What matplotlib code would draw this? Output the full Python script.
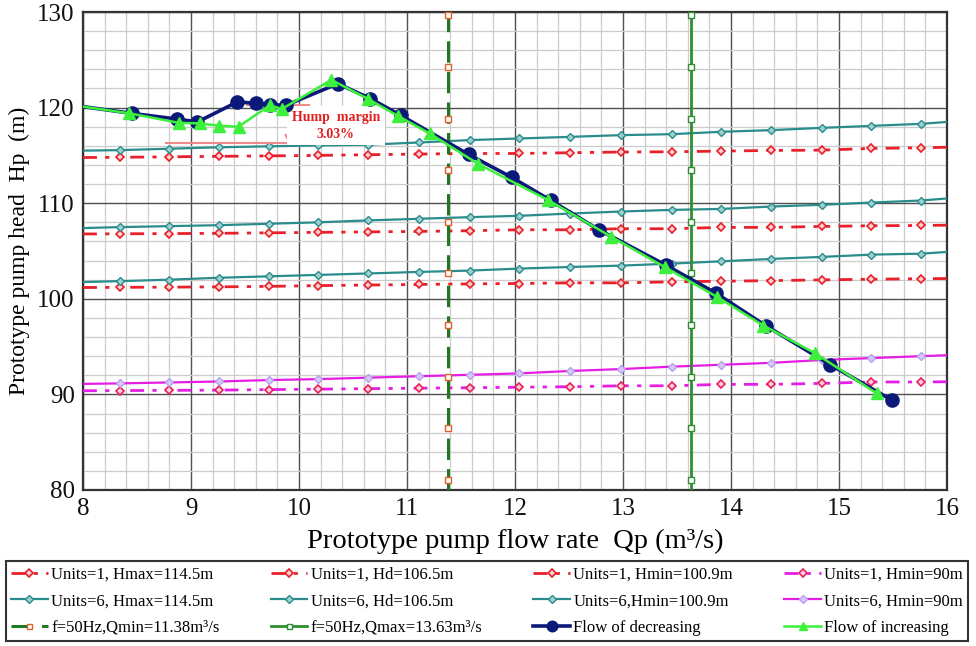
import matplotlib
matplotlib.use("Agg")
import matplotlib.pyplot as plt
from matplotlib.ticker import MultipleLocator

plt.rcParams['font.family'] = ['Liberation Serif', 'DejaVu Serif']

# ---------------- data ----------------
# flow values of operating lines (axis edges + marker positions)
q_line = [8.0, 8.34, 8.80, 9.26, 9.72, 10.18, 10.64, 11.11, 11.58, 12.04,
          12.51, 12.98, 13.45, 13.91, 14.37, 14.84, 15.30, 15.76, 16.0]

u1_hmax = [114.78, 114.8, 114.85, 114.9, 114.95, 115.0, 115.07, 115.14, 115.2, 115.2,
           115.28, 115.35, 115.38, 115.45, 115.52, 115.55, 115.73, 115.8, 115.85]
u1_hd = [106.78, 106.8, 106.82, 106.85, 106.9, 106.95, 107.0, 107.05, 107.12, 107.22,
         107.22, 107.33, 107.33, 107.47, 107.47, 107.57, 107.64, 107.67, 107.7]
u1_hmin = [101.18, 101.2, 101.22, 101.25, 101.3, 101.38, 101.44, 101.5, 101.56, 101.6,
           101.67, 101.67, 101.77, 101.84, 101.9, 101.98, 102.05, 102.1, 102.12]
u1_h90 = [90.38, 90.4, 90.42, 90.45, 90.5, 90.55, 90.6, 90.65, 90.7, 90.75,
          90.8, 90.9, 90.9, 91.05, 91.05, 91.15, 91.3, 91.3, 91.32]

u6_hmax = [115.5, 115.55, 115.7, 115.85, 115.95, 116.05, 116.12, 116.35, 116.6, 116.77,
           116.94, 117.12, 117.22, 117.47, 117.64, 117.88, 118.09, 118.3, 118.5]
u6_hd = [107.4, 107.5, 107.6, 107.7, 107.85, 108.0, 108.2, 108.37, 108.54, 108.68,
         108.92, 109.13, 109.3, 109.4, 109.65, 109.83, 110.07, 110.28, 110.5]
u6_hmin = [101.75, 101.85, 102.0, 102.2, 102.35, 102.5, 102.65, 102.81, 102.95, 103.16,
           103.33, 103.47, 103.68, 103.92, 104.17, 104.38, 104.62, 104.72, 104.9]
u6_h90 = [91.1, 91.15, 91.25, 91.35, 91.5, 91.6, 91.75, 91.9, 92.05, 92.2,
          92.45, 92.65, 92.9, 93.1, 93.3, 93.6, 93.8, 94.0, 94.1]

q_min = 11.38
q_max = 13.63
v_heads = [80.0, 81.05, 86.45, 91.85, 97.25, 102.65, 108.05, 113.45, 118.85, 124.25, 129.65, 130.0]

q_dec = [8.0, 8.45, 8.87, 9.06, 9.43, 9.60, 9.73, 9.88, 10.36, 10.66,
         10.94, 11.57, 11.97, 12.33, 12.78, 13.40, 13.86, 14.32, 14.92, 15.49]
h_dec = [120.1, 119.4, 118.8, 118.5, 120.6, 120.45, 120.3, 120.25, 122.5, 120.95,
         119.2, 115.1, 112.7, 110.3, 107.2, 103.5, 100.6, 97.2, 93.1, 89.4]

q_inc = [8.0, 8.43, 8.89, 9.08, 9.26, 9.44, 9.73, 9.84, 10.30, 10.64,
         10.92, 11.21, 11.66, 12.31, 12.89, 13.39, 13.87, 14.30, 14.78, 15.35]
h_inc = [120.1, 119.4, 118.4, 118.35, 118.1, 118.0, 120.25, 119.85, 122.9, 120.9,
         119.1, 117.3, 114.1, 110.3, 106.5, 103.3, 100.2, 97.2, 94.3, 90.1]

hump_top = 120.3
hump_base = 116.3
hump_text = "Hump  margin\n3.03%"

labels = {
    'u1_hmax': "Units=1, Hmax=114.5m", 'u1_hd': "Units=1, Hd=106.5m",
    'u1_hmin': "Units=1, Hmin=100.9m", 'u1_h90': "Units=1, Hmin=90m",
    'u6_hmax': "Units=6, Hmax=114.5m", 'u6_hd': "Units=6, Hd=106.5m",
    'u6_hmin': "Units=6,Hmin=100.9m", 'u6_h90': "Units=6, Hmin=90m",
    'qmin': "f=50Hz,Qmin=11.38m³/s", 'qmax': "f=50Hz,Qmax=13.63m³/s",
    'dec': "Flow of decreasing", 'inc': "Flow of increasing",
}

# ---------------- figure ----------------
fig = plt.figure(figsize=(9.76, 6.46), dpi=100)
ax = fig.add_axes([83/976, 1-490/646, (947-83)/976, (490-12)/646])

RED = '#e8202a'
TEAL = '#2a8c8c'
MAG = '#e41ee4'
NAVY = '#0b1a78'
LIME = '#3cf03c'
DG1 = '#1f7a1f'
DG2 = '#2f8f2f'
red_ls = (0, (5, 3, 1.5, 3, 1.5, 3))
mk = slice(1, -1)

h = {}
for key, ys in [('u1_hmax', u1_hmax), ('u1_hd', u1_hd), ('u1_hmin', u1_hmin)]:
    h[key], = ax.plot(q_line, ys, color=RED, lw=2.0, ls=red_ls, marker='D', ms=4.5,
                      mfc='#ffd0d0', mec=RED, mew=1.2, markevery=mk, zorder=3)
h['u1_h90'], = ax.plot(q_line, u1_h90, color=MAG, lw=2.0, ls=red_ls, marker='D', ms=4.5,
                       mfc='#ffd0e0', mec='#e8205a', mew=1.2, markevery=mk, zorder=3)
for key, ys in [('u6_hmax', u6_hmax), ('u6_hd', u6_hd), ('u6_hmin', u6_hmin)]:
    h[key], = ax.plot(q_line, ys, color=TEAL, lw=1.6, ls='-', marker='D', ms=4.5,
                      mfc='#9fd0d0', mec=TEAL, mew=1.0, markevery=mk, zorder=3)
h['u6_h90'], = ax.plot(q_line, u6_h90, color=MAG, lw=1.6, ls='-', marker='D', ms=4.5,
                       mfc='#d8c8f8', mec='#b8a0f0', mew=1.0, markevery=mk, zorder=3)

h['qmin'], = ax.plot([q_min]*len(v_heads), v_heads, color=DG1, lw=2.2, ls=(0, (7, 3)),
                     marker='s', ms=4.5, mfc='white', mec='#e0602a', mew=1.0,
                     markevery=mk, zorder=3)
h['qmax'], = ax.plot([q_max]*len(v_heads), v_heads, color=DG2, lw=2.0, ls='-',
                     marker='s', ms=4.5, mfc='white', mec=DG2, mew=1.0,
                     markevery=mk, zorder=3)

h['dec'], = ax.plot(q_dec, h_dec, color=NAVY, lw=2.6, marker='o', ms=9.5,
                    mfc=NAVY, mec=NAVY, markevery=slice(1, None), zorder=5)
h['inc'], = ax.plot(q_inc, h_inc, color=LIME, lw=1.8, marker='^', ms=8,
                    mfc=LIME, mec=LIME, markevery=slice(1, None), zorder=6)

# hump margin annotation
PINK = '#f08a8a'
ax.plot([9.52, 10.09], [hump_top, hump_top], color=PINK, lw=1.5, zorder=4)
ax.plot([8.77, 10.65], [hump_base, hump_base], color=PINK, lw=1.5, zorder=4)
ax.annotate('', xy=(9.9, hump_base + 0.05), xytext=(9.9, hump_top - 0.05),
            arrowprops=dict(arrowstyle='<->', color=PINK, lw=1.5,
                            mutation_scale=10, shrinkA=0, shrinkB=0), zorder=4)
ax.text(10.34, 118.1, hump_text, ha='center', va='center', color='#e02020',
        fontsize=10, fontweight='bold', linespacing=1.35, zorder=4,
        bbox=dict(boxstyle='square,pad=0.35', fc='white', ec='none'))

# axes styling
ax.set_xlim(8, 16)
ax.set_ylim(80, 130)
ax.xaxis.set_major_locator(MultipleLocator(1))
ax.xaxis.set_minor_locator(MultipleLocator(0.2))
ax.yaxis.set_major_locator(MultipleLocator(10))
ax.yaxis.set_minor_locator(MultipleLocator(2))
ax.grid(which='minor', color='#cccccc', lw=0.9, zorder=0)
ax.grid(which='major', color='#505050', lw=1.0, zorder=1)
ax.set_axisbelow(True)
ax.tick_params(which='both', length=0, labelsize=18, pad=6, colors='#111111')
for s in ax.spines.values():
    s.set_color('#333333')
    s.set_linewidth(1.6)

ax.set_xlabel("Prototype pump flow rate  Qp (m³/s)", fontsize=20.5, labelpad=6)
ax.set_ylabel("Prototype pump head  Hp  (m)", fontsize=17, labelpad=5)

order = ['u1_hmax', 'u6_hmax', 'qmin', 'u1_hd', 'u6_hd', 'qmax',
         'u1_hmin', 'u6_hmin', 'dec', 'u1_h90', 'u6_h90', 'inc']
leg = fig.legend([h[k] for k in order], [labels[k] for k in order],
                 loc='lower left', bbox_to_anchor=(6/976, 5/646, 962/976, 82/646),
                 mode='expand', ncol=4, fontsize=12, frameon=True, fancybox=False,
                 edgecolor='black', borderaxespad=0, handlelength=2.2,
                 handletextpad=0.2, labelspacing=0.65, borderpad=0.3,
                 columnspacing=0.5, markerscale=0.8)
leg.get_frame().set_linewidth(1.5)

fig.savefig('out.png', dpi=100)
